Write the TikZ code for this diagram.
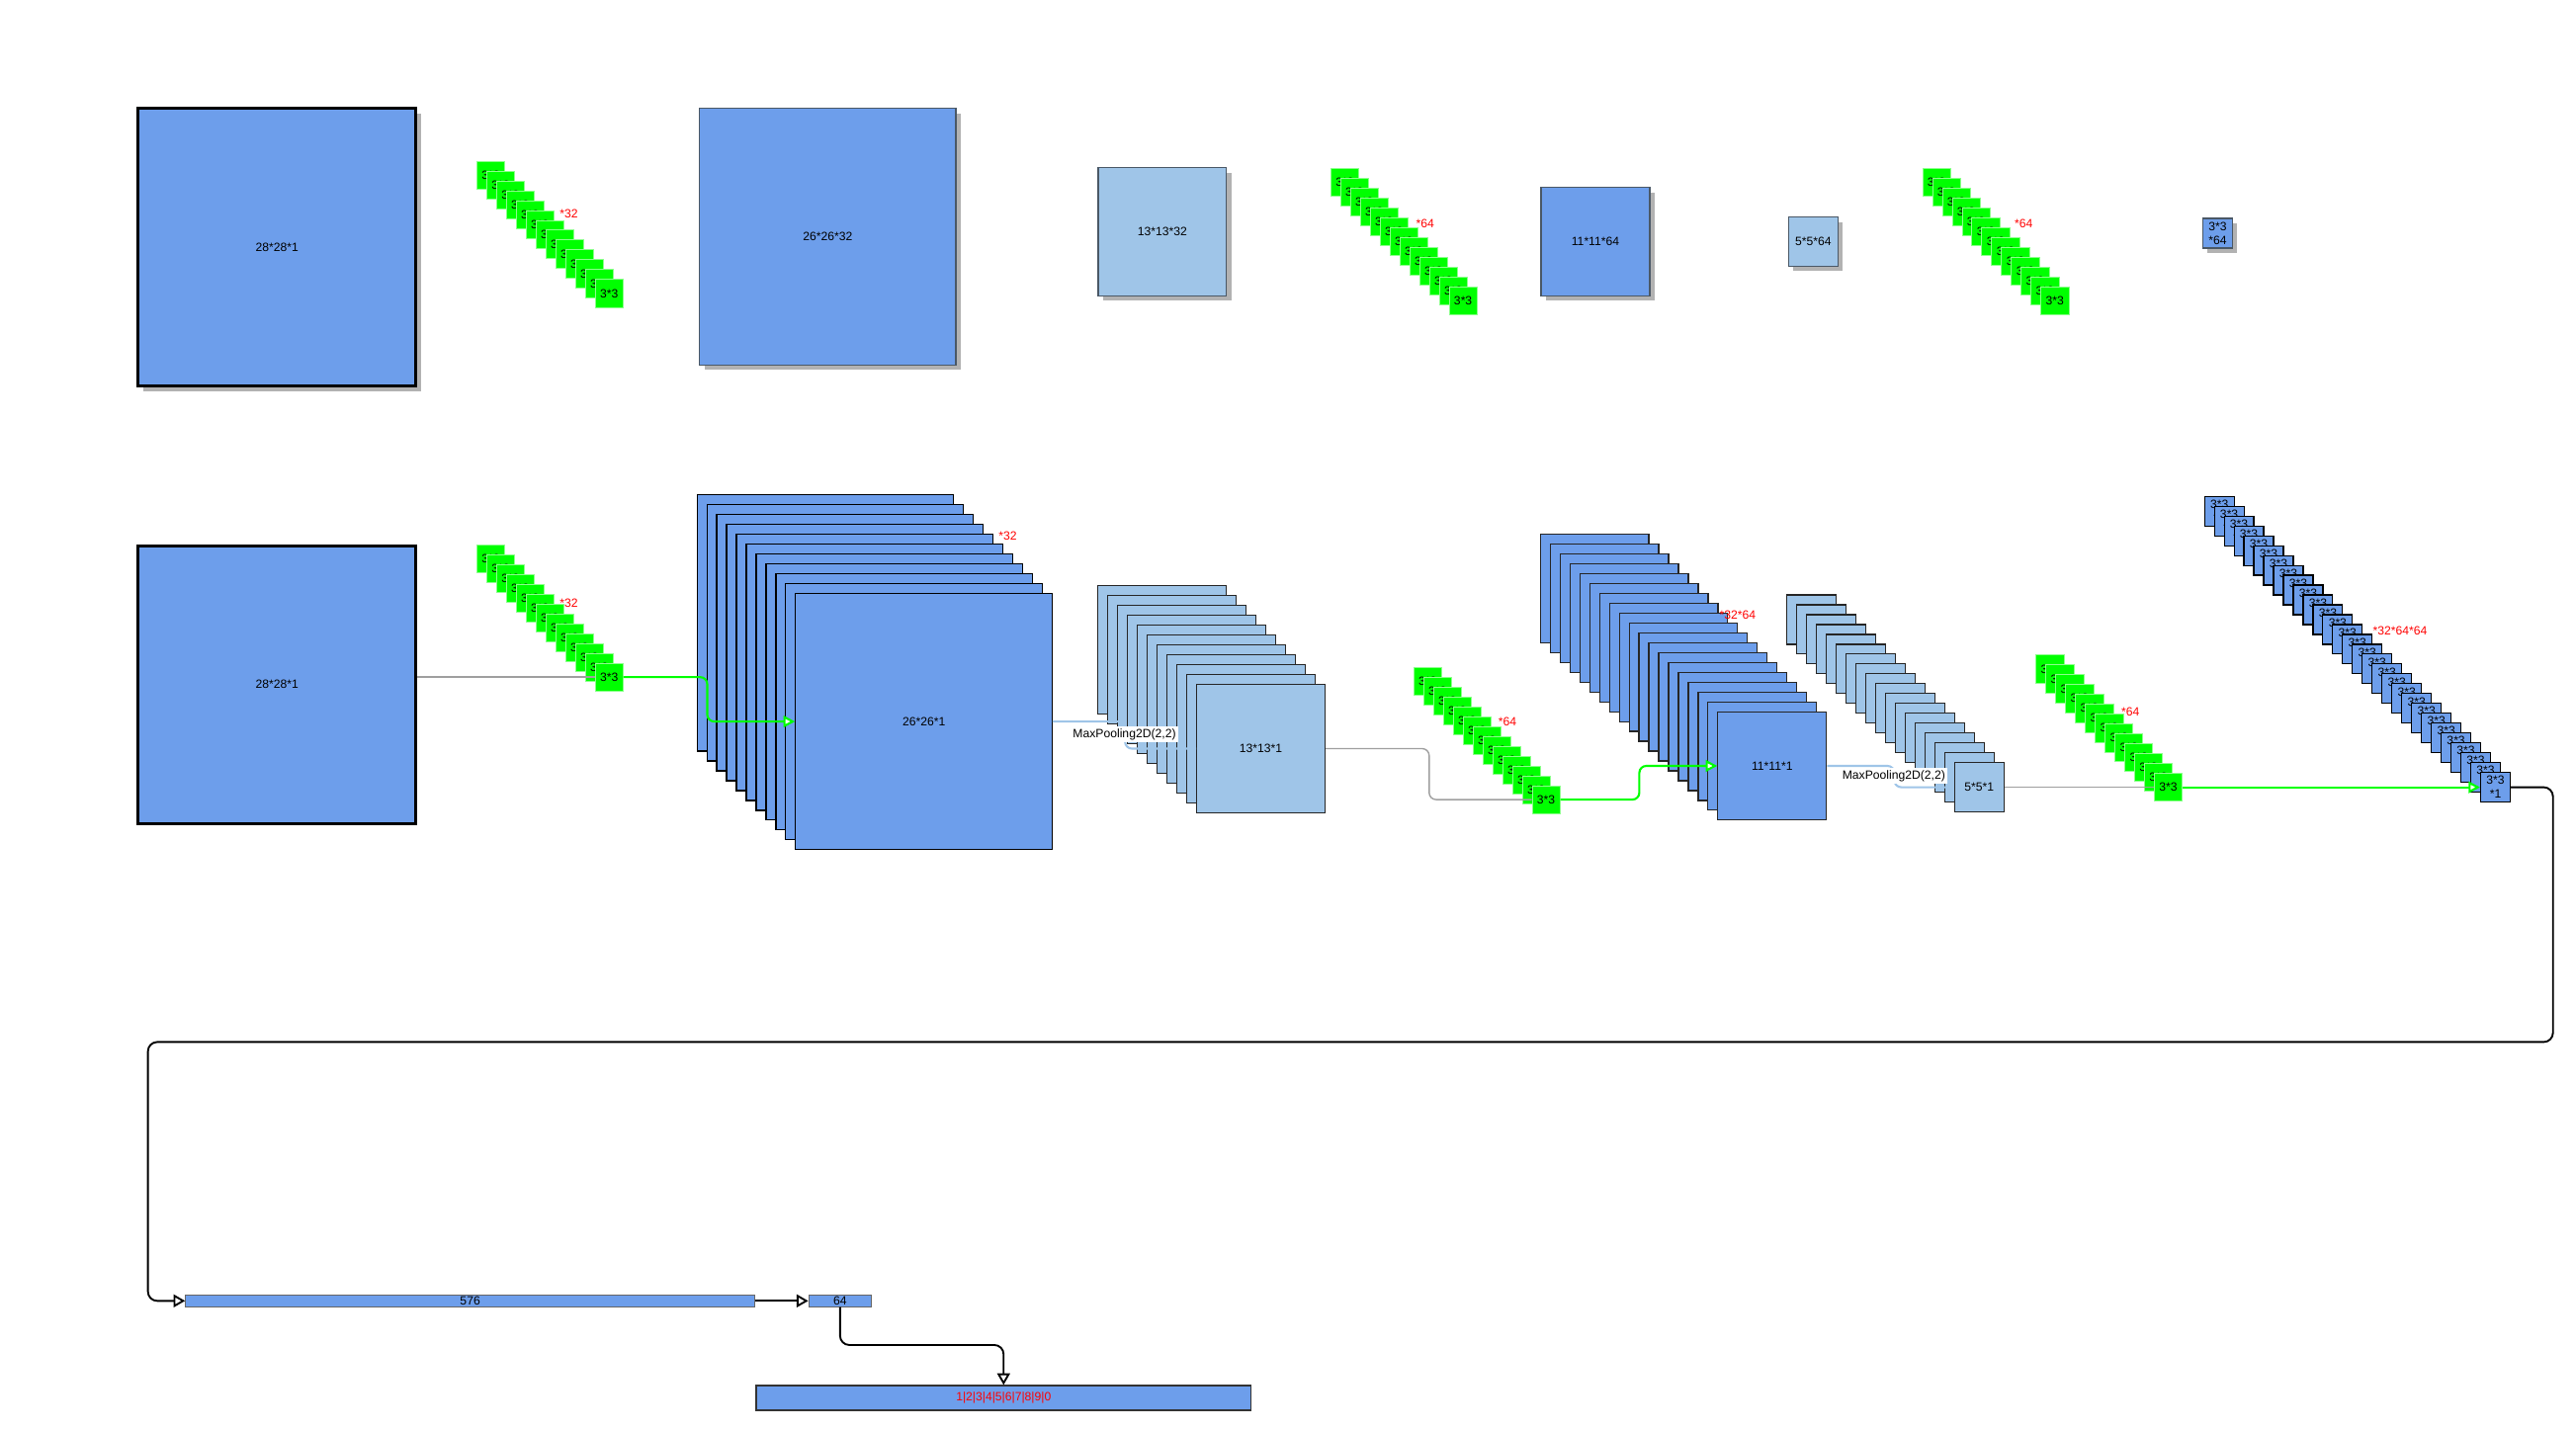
\documentclass[tikz,border=0pt]{standalone}
\usepackage{fontspec}
\setmainfont{Liberation Sans}
\usepackage{xcolor}
\usepackage{tikz}
\usetikzlibrary{arrows.meta, shadows}

\definecolor{mapblue}{HTML}{6D9EEB}
\definecolor{poolblue}{HTML}{9FC5E8}
\definecolor{kgreen}{HTML}{00FF00}
\definecolor{kedge}{HTML}{8CFF8C}
\definecolor{slate}{HTML}{4A5866}

\tikzset{
  fmap/.style={draw=slate, fill=mapblue, line width=0.6pt, inner sep=0pt, align=center},
  pmap/.style={fmap, fill=poolblue},
  thickmap/.style={draw=black, line width=1.2pt},
  stackmap/.style={fmap, draw=black!85, line width=0.5pt},
  boxshadow/.style={drop shadow={shadow xshift=0.075cm, shadow yshift=-0.075cm, fill=black!30, opacity=1}},
  kernel/.style={draw=kedge, fill=kgreen, line width=0.3pt, minimum size=0.425cm, inner sep=0pt},
  redlabel/.style={text=red, inner sep=0pt},
  poollabel/.style={fill=white, inner sep=1pt},
  dataline/.style={draw=gray!75, line width=0.6pt, rounded corners=3pt},
  poolline/.style={draw=poolblue, line width=0.9pt, rounded corners=3pt},
  kernelarrow/.style={draw=kgreen, line width=0.9pt, rounded corners=3pt, -{Triangle[fill=white, length=5pt, width=5pt]}},
  flowarrow/.style={draw=black, line width=0.8pt, rounded corners=4pt, -{Triangle[fill=white, length=5pt, width=5.5pt]}},
  bar/.style={draw=black!60, fill=mapblue, line width=0.5pt, inner sep=0pt}
}

\begin{document}
\begin{tikzpicture}[x=0.025cm, y=-0.025cm, font=\fontsize{5.2}{6}\selectfont]
  \useasboundingbox (0,0) rectangle (1567,870.1);

  % top row: one map per layer
  \node[fmap, thickmap, boxshadow, minimum size=4.225cm] (inTop) at (168.5,150.5) {28*28*1};
  \foreach \i in {1,...,13}
    \node[kernel] (ka-\i) at ({370.5-(13-\i)*6},{178.5-(13-\i)*6}) {3*3};
  \node[redlabel] (ka-n) at (346,130) {*32};
  \node[fmap, boxshadow, minimum size=3.9cm] (convTop1) at (503.5,144) {26*26*32};
  \node[pmap, boxshadow, minimum size=1.95cm] (poolTop1) at (707,141) {13*13*32};
  \foreach \i in {1,...,13}
    \node[kernel] (kb-\i) at ({890-(13-\i)*6},{183-(13-\i)*6}) {3*3};
  \node[redlabel] (kb-n) at (867,136) {*64};
  \node[fmap, boxshadow, minimum size=1.65cm] (convTop2) at (970.5,147) {11*11*64};
  \node[pmap, boxshadow, minimum size=0.75cm] (poolTop2) at (1103,147) {5*5*64};
  \foreach \i in {1,...,13}
    \node[kernel] (kc-\i) at ({1250-(13-\i)*6},{183-(13-\i)*6}) {3*3};
  \node[redlabel] (kc-n) at (1231,136) {*64};
  \node[fmap, boxshadow, minimum size=0.45cm] (convTop3) at (1349,142) {3*3\\*64};

  % middle row: stacks of maps
  \node[fmap, thickmap, minimum size=4.225cm] (inMid) at (168.5,416.5) {28*28*1};
  \foreach \i in {1,...,13}
    \node[kernel] (kd-\i) at ({370.5-(13-\i)*6},{412-(13-\i)*6}) {3*3};
  \node[redlabel] (kd-n) at (346,367) {*32};
  \foreach \i in {1,...,10}
    \node[stackmap, draw=black, minimum size=3.9cm] (conv1-\i) at ({562-(11-\i)*6},{439-(11-\i)*6}) {};
  \node[stackmap, draw=black, minimum size=3.9cm] (conv1-11) at (562,439) {26*26*1};
  \node[redlabel] (conv1-n) at (613,326) {*32};
  \foreach \i in {1,...,10}
    \node[stackmap, fill=poolblue, minimum size=1.95cm] (pool1-\i) at ({767-(11-\i)*6},{455.5-(11-\i)*6}) {};
  \node[stackmap, fill=poolblue, minimum size=1.95cm] (pool1-11) at (767,455.5) {13*13*1};
  \foreach \i in {1,...,13}
    \node[kernel] (ke-\i) at ({940.5-(13-\i)*6},{486.5-(13-\i)*6}) {3*3};
  \node[redlabel] (ke-n) at (917,439) {*64};
  \foreach \i in {1,...,18}
    \node[stackmap, minimum size=1.65cm] (conv2-\i) at ({1078-(19-\i)*6},{466-(19-\i)*6}) {};
  \node[stackmap, minimum size=1.65cm] (conv2-19) at (1078,466) {11*11*1};
  \node[redlabel] (conv2-n) at (1057,374) {*32*64};
  \foreach \i in {1,...,17}
    \node[stackmap, fill=poolblue, minimum size=0.75cm] (pool2-\i) at ({1204-(18-\i)*6},{479-(18-\i)*6}) {};
  \node[stackmap, fill=poolblue, minimum size=0.75cm] (pool2-18) at (1204,479) {5*5*1};
  \foreach \i in {1,...,13}
    \node[kernel] (kf-\i) at ({1319-(13-\i)*6},{479-(13-\i)*6}) {3*3};
  \node[redlabel] (kf-n) at (1296,433) {*64};
  \foreach \i in {1,...,29}
    \node[stackmap, draw=black, minimum size=0.45cm] (conv3-\i) at ({1518-(29-\i)*6},{479-(29-\i)*6}) {3*3\\*1};
  \node[redlabel] (conv3-n) at (1460,384) {*32*64*64};

  % bottom row: dense layers
  \node[bar, minimum width=8.65cm, minimum height=0.175cm] (flat) at (286,791.5) {576};
  \node[bar, minimum width=0.95cm, minimum height=0.175cm] (dense) at (511,791.5) {64};
  \node[bar, draw=black!80, minimum width=7.525cm, minimum height=0.375cm, text=red] (outBar) at (610.5,850.5) {1|2|3|4|5|6|7|8|9|0};

  % connectors
  \draw[dataline] (inMid.east |- kd-13.west) -- (kd-13.west);
  \draw[kernelarrow] (kd-13.east) -- ++(51,0) |- (conv1-11.west);
  \draw[poolline] (conv1-11.east) -- ++(44,0) |- (pool1-11.west);
  \node[poollabel] (pl1) at (684,447) {MaxPooling2D(2,2)};
  \draw[dataline] (pool1-11.east) -- ++(63,0) |- (ke-13.west);
  \draw[kernelarrow] (ke-13.east) -- ++(48,0) |- (conv2-19.west);
  \draw[poolline] (conv2-19.east) -- ++(41,0) |- (pool2-18.west);
  \node[poollabel] (pl2) at (1152,472) {MaxPooling2D(2,2)};
  \draw[dataline] (pool2-18.east) -- (kf-13.west);
  \draw[kernelarrow] (kf-13.east) -- (conv3-29.west);

  \coordinate (bendR) at (1553,634);
  \coordinate (bendL) at (90,634);
  \draw[flowarrow] (conv3-29.east) -| (bendR) -- (bendL) |- (flat.west);
  \draw[flowarrow] (flat.east) -- (dense.west);
  \draw[flowarrow] (dense.south) -- ++(0,23) -| (outBar.north);
\end{tikzpicture}
\end{document}
